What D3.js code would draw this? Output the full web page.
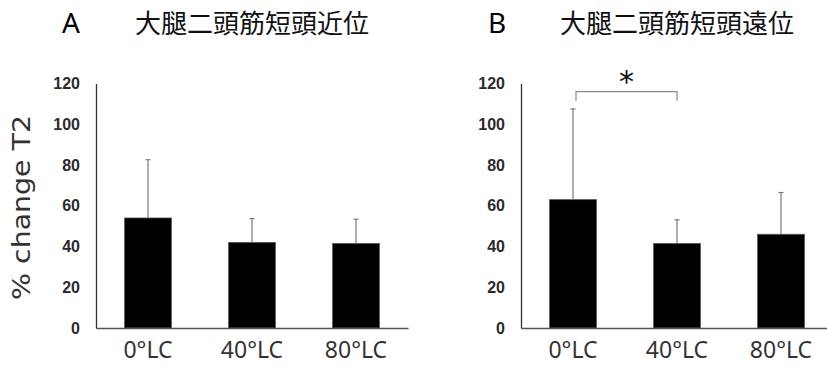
<!DOCTYPE html>
<html>
<head>
<meta charset="utf-8">
<script src="https://cdn.jsdelivr.net/npm/d3@7"></script>
<style>
  body { margin: 0; background: #fff; }
  svg { display: block; }
</style>
</head>
<body>
<div id="chart"></div>
<script>
// Data (mean % change T2 with SD whiskers)
const categories = ["0°LC", "40°LC", "80°LC"];
const yTicks = [0, 20, 40, 60, 80, 100, 120];

const panelLetters = ["A", "B"];
const panelTitles = ["大腿二頭筋短頭近位", "大腿二頭筋短頭遠位"];

const meanA = [54, 42, 41.5];
const sdA = [28.6, 11.7, 11.9];
const meanB = [63, 41.5, 46];
const sdB = [44.5, 11.6, 20.5];

// significance bracket in panel B: between 0°LC and 40°LC
const sigPairs = [{panel: 1, from: 0, to: 1, level: 116, tail: 111.5, label: "*"}];

const W = 827, H = 367;
const svg = d3.select("#chart").append("svg")
    .attr("width", W)
    .attr("height", H);

const panels = [
    {left: 96, letterX: 62, titleX: 135, mean: meanA, sd: sdA},
    {left: 521, letterX: 488, titleX: 560, mean: meanB, sd: sdB}
];

const plotW = 312;
const y = d3.scaleLinear().domain([0, 120]).range([328, 83.5]);

panels.forEach((p, pi) => {
    const g = svg.append("g");

    const x = d3.scaleBand()
        .domain(categories)
        .range([p.left, p.left + plotW])
        .paddingInner(0.55)
        .paddingOuter(0.275);

    // Panel letter and title
    g.append("text")
        .attr("x", p.letterX)
        .attr("y", 33)
        .style("font-family", "'Noto Sans', sans-serif")
        .style("font-size", "28px")
        .style("fill", "#000")
        .text(panelLetters[pi]);

    g.append("text")
        .attr("x", p.titleX)
        .attr("y", 33)
        .style("font-family", "'Noto Sans CJK JP', sans-serif")
        .style("font-size", "26px")
        .style("fill", "#111")
        .text(panelTitles[pi]);

    // Y axis (line + labels, no tick marks)
    const yAxis = g.append("g")
        .attr("transform", `translate(${p.left},0)`)
        .call(d3.axisLeft(y).tickValues(yTicks).tickSize(0).tickPadding(16))
        .attr("font-family", "'Liberation Sans', Arial, sans-serif")
        .attr("font-size", 16)
        .attr("font-weight", "bold");
    yAxis.select(".domain").attr("stroke", "#333").attr("stroke-width", 1.3);
    yAxis.selectAll("text")
        .attr("fill", "#2b2b2b");

    // Bars
    g.selectAll(".bar")
        .data(categories)
        .enter()
        .append("rect")
        .attr("class", "bar")
        .attr("x", d => x(d))
        .attr("y", (d, i) => y(p.mean[i]))
        .attr("width", x.bandwidth())
        .attr("height", (d, i) => y(0) - y(p.mean[i]))
        .attr("fill", "#000")
        .attr("stroke", "#555")
        .attr("stroke-width", 0.8);

    // Error whiskers (upper only)
    const cx = d => x(d) + x.bandwidth() / 2;
    g.selectAll(".err")
        .data(categories)
        .enter()
        .append("line")
        .attr("x1", cx).attr("x2", cx)
        .attr("y1", (d, i) => y(p.mean[i]))
        .attr("y2", (d, i) => y(p.mean[i] + p.sd[i]))
        .attr("stroke", "#7a7a7a")
        .attr("stroke-width", 1.2);
    g.selectAll(".cap")
        .data(categories)
        .enter()
        .append("line")
        .attr("x1", d => cx(d) - 2.5).attr("x2", d => cx(d) + 2.5)
        .attr("y1", (d, i) => y(p.mean[i] + p.sd[i]))
        .attr("y2", (d, i) => y(p.mean[i] + p.sd[i]))
        .attr("stroke", "#7a7a7a")
        .attr("stroke-width", 1.2);

    // X axis
    const xAxis = g.append("g")
        .attr("transform", `translate(0,${y(0)})`)
        .call(d3.axisBottom(x).tickSize(0).tickPadding(14))
        .attr("font-family", "'Noto Sans', sans-serif")
        .attr("font-size", 23);
    xAxis.select(".domain").attr("stroke", "#555").attr("stroke-width", 1.3);
    xAxis.selectAll("text")
        .attr("fill", "#333");

    // Significance brackets
    sigPairs.filter(s => s.panel === pi).forEach(s => {
        const x1 = cx(categories[s.from]) + 3;
        const x2 = cx(categories[s.to]);
        g.append("path")
            .attr("d", `M${x1},${y(s.tail)}V${y(s.level)}H${x2}V${y(s.tail)}`)
            .attr("fill", "none")
            .attr("stroke", "#8a8a8a")
            .attr("stroke-width", 1.2);
        g.append("text")
            .attr("x", (x1 + x2) / 2)
            .attr("y", y(s.level))
            .attr("text-anchor", "middle")
            .style("font-family", "'DejaVu Sans', sans-serif")
            .style("font-size", "30px")
            .style("fill", "#111")
            .text(s.label);
    });
});

// Shared Y axis label
svg.append("text")
    .attr("transform", `translate(30,207.5) rotate(-90)`)
    .attr("text-anchor", "middle")
    .attr("textLength", 185)
    .attr("lengthAdjust", "spacingAndGlyphs")
    .style("font-family", "'DejaVu Sans', sans-serif")
    .style("font-size", "25px")
    .style("fill", "#333")
    .text("% change T2");
</script>
</body>
</html>
